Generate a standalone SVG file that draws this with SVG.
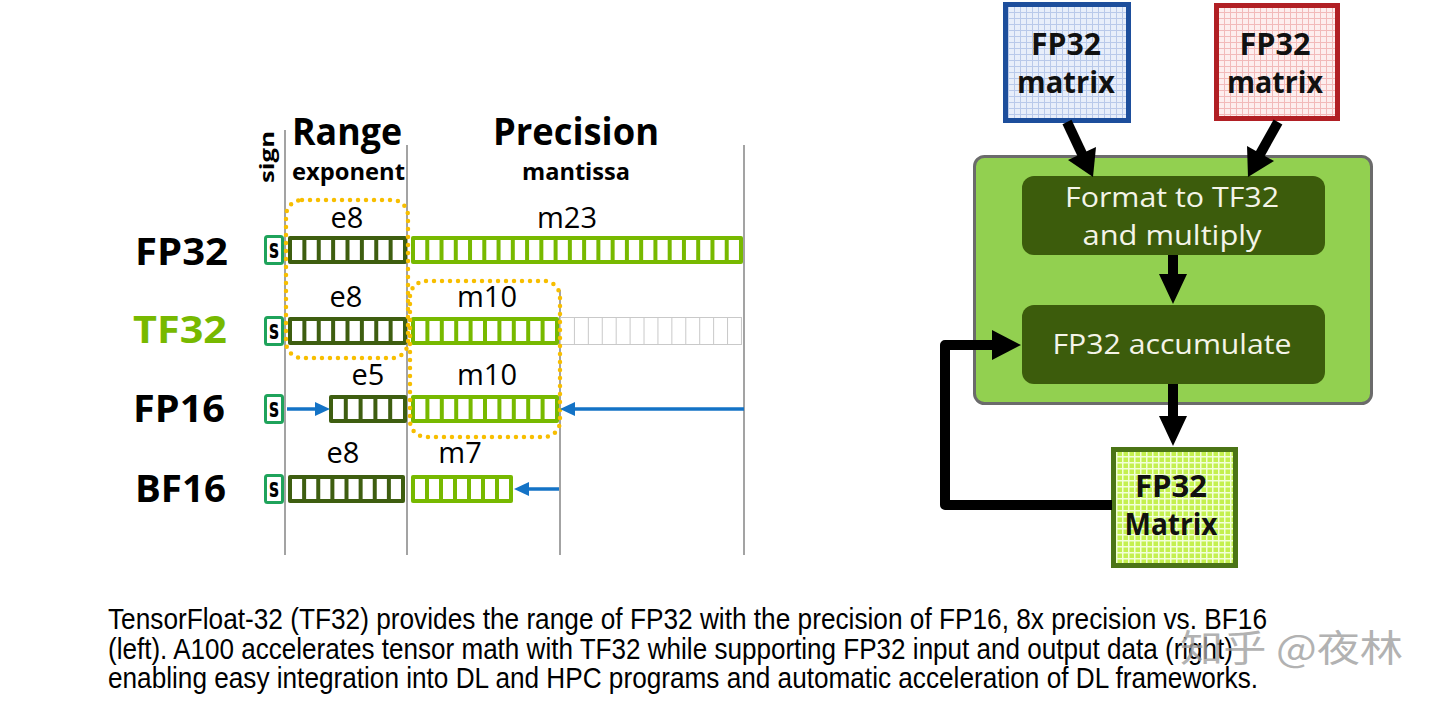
<svg xmlns="http://www.w3.org/2000/svg" width="1440" height="710" viewBox="0 0 1440 710">
<style>
.vl{stroke:#a3a3a3;stroke-width:2;fill:none}
.hd{font-family:"Open Sans","DejaVu Sans",sans-serif;font-weight:bold;fill:#000}
.lb{font-family:"Open Sans","DejaVu Sans",sans-serif;font-size:29px;fill:#000;text-anchor:middle}
.row{font-family:"Open Sans","DejaVu Sans",sans-serif;font-weight:bold;font-size:37px;fill:#000}
.sg{fill:#fff;stroke:#1fa35b;stroke-width:3}
.st{font-family:"DejaVu Sans",sans-serif;font-weight:bold;font-size:27px;fill:#000}
.ex{fill:#3e5e10}
.mt{fill:#77b900}
.cw{stroke:#fff;stroke-width:20}
.dot{fill:none;stroke:#f7be00;stroke-width:4.5;stroke-dasharray:0 8;stroke-linecap:round}
.blue{stroke:#1473c6;stroke-width:3.5;fill:none}
.bh{fill:#1473c6}
.bk{stroke:#000;stroke-width:10;fill:none;stroke-linejoin:round}
.kh{fill:#000}
.dk{fill:#3c5c0c}
.wt{font-family:"Open Sans","DejaVu Sans",sans-serif;font-size:28px;fill:#f4f4e8;text-anchor:middle}
.mx{font-family:"Open Sans","DejaVu Sans",sans-serif;font-weight:bold;font-size:31px;fill:#111;text-anchor:middle}
.cap{font-family:"Liberation Sans",Arial,sans-serif;font-size:29px;fill:#000}
</style>
<defs>
<pattern id="gb" width="6" height="6" patternUnits="userSpaceOnUse">
<rect width="6" height="6" fill="#e8eefa"/>
<path d="M0 0.5H6M0.5 0V6" stroke="#b9c9ea" stroke-width="1"/>
</pattern>
<pattern id="gr" width="6" height="6" patternUnits="userSpaceOnUse">
<rect width="6" height="6" fill="#fdeeee"/>
<path d="M0 0.5H6M0.5 0V6" stroke="#f2baba" stroke-width="1"/>
</pattern>
<pattern id="gg" width="6" height="6" patternUnits="userSpaceOnUse">
<rect width="6" height="6" fill="#c4f04e"/>
<path d="M0 0.75H6M0.75 0V6" stroke="#f2ffd8" stroke-width="1.5"/>
</pattern>
</defs>
<rect width="1440" height="710" fill="#fff"/>

<g id="axes">
<line class="vl" x1="285" y1="130" x2="285" y2="555"/>
<line class="vl" x1="407" y1="145" x2="407" y2="555"/>
<line class="vl" x1="560" y1="290" x2="560" y2="555"/>
<line class="vl" x1="744" y1="145" x2="744" y2="555"/>
</g>

<g id="header">
<text class="hd" x="292" y="145" font-size="37" textLength="110" lengthAdjust="spacingAndGlyphs">Range</text>
<text class="hd" x="493" y="145" font-size="37" textLength="166" lengthAdjust="spacingAndGlyphs">Precision</text>
<text class="hd" x="292" y="180" font-size="23" textLength="113" lengthAdjust="spacingAndGlyphs">exponent</text>
<text class="hd" x="522" y="180" font-size="23" textLength="108" lengthAdjust="spacingAndGlyphs">mantissa</text>
<text class="hd" font-size="20" text-anchor="middle" transform="translate(274,157) rotate(-90)" textLength="52" lengthAdjust="spacingAndGlyphs">sign</text>
</g>

<g id="row-fp32">
<text class="row" x="135" y="265" textLength="93" lengthAdjust="spacingAndGlyphs">FP32</text>
<rect class="sg" x="265.5" y="236.5" width="17" height="27" rx="2"/>
<text class="st" x="269" y="258" textLength="10" lengthAdjust="spacingAndGlyphs">s</text>
<rect class="ex" x="288" y="236" width="119" height="28" rx="2"/>
<line class="cw" x1="292" y1="250" x2="403" y2="250" stroke-dasharray="10.375 4"/>
<rect class="mt" x="411" y="236" width="332" height="28" rx="2"/>
<line class="cw" x1="415" y1="250" x2="739" y2="250" stroke-dasharray="10.26 4"/>
<text class="lb" x="347" y="228">e8</text>
<text class="lb" x="567" y="228">m23</text>
</g>

<g id="row-tf32">
<text class="row" x="133" y="343" style="fill:#77b900" textLength="94" lengthAdjust="spacingAndGlyphs">TF32</text>
<rect class="sg" x="265.5" y="317.5" width="17" height="27" rx="2"/>
<text class="st" x="269" y="339" textLength="10" lengthAdjust="spacingAndGlyphs">s</text>
<rect class="ex" x="288" y="317" width="119" height="28" rx="2"/>
<line class="cw" x1="292" y1="331" x2="403" y2="331" stroke-dasharray="10.375 4"/>
<rect class="mt" x="411" y="317" width="148" height="28" rx="2"/>
<line class="cw" x1="415" y1="331" x2="555" y2="331" stroke-dasharray="10.4 4"/>
<rect x="560.5" y="317.5" width="181" height="27" fill="none" stroke="#c9c9c9" stroke-width="1"/>
<line x1="560" y1="331" x2="741" y2="331" stroke="#c9c9c9" stroke-width="27" stroke-dasharray="1 12.92"/>
<text class="lb" x="346" y="307">e8</text>
<text class="lb" x="487" y="307">m10</text>
</g>

<g id="row-fp16">
<text class="row" x="133" y="422" textLength="92" lengthAdjust="spacingAndGlyphs">FP16</text>
<rect class="sg" x="265.5" y="395.5" width="17" height="27" rx="2"/>
<text class="st" x="269" y="417" textLength="10" lengthAdjust="spacingAndGlyphs">s</text>
<rect class="ex" x="329" y="395" width="78" height="28" rx="2"/>
<line class="cw" x1="333" y1="409" x2="403" y2="409" stroke-dasharray="10.8 4"/>
<rect class="mt" x="411" y="395" width="148" height="28" rx="2"/>
<line class="cw" x1="415" y1="409" x2="555" y2="409" stroke-dasharray="10.4 4"/>
<text class="lb" x="368" y="385">e5</text>
<text class="lb" x="487" y="385">m10</text>
</g>

<g id="row-bf16">
<text class="row" x="135" y="502" textLength="91" lengthAdjust="spacingAndGlyphs">BF16</text>
<rect class="sg" x="265.5" y="475.5" width="17" height="27" rx="2"/>
<text class="st" x="269" y="497" textLength="10" lengthAdjust="spacingAndGlyphs">s</text>
<rect class="ex" x="288" y="475" width="117" height="28" rx="2"/>
<line class="cw" x1="292" y1="489" x2="401" y2="489" stroke-dasharray="10.125 4"/>
<rect class="mt" x="411" y="475" width="102" height="28" rx="2"/>
<line class="cw" x1="415" y1="489" x2="509" y2="489" stroke-dasharray="10 4"/>
<text class="lb" x="343" y="463">e8</text>
<text class="lb" x="460" y="463">m7</text>
</g>

<g id="highlights">
<rect class="dot" x="286" y="200" width="122" height="158" rx="16"/>
<rect class="dot" x="410" y="281" width="150" height="156" rx="16"/>
</g>

<g id="node-fp32-a">
<rect x="1005.5" y="4.5" width="123" height="116" fill="url(#gb)" stroke="#1d4e9c" stroke-width="5"/>
<text class="mx" x="1066" y="55" textLength="70" lengthAdjust="spacingAndGlyphs">FP32</text>
<text class="mx" x="1066" y="93" textLength="98" lengthAdjust="spacingAndGlyphs">matrix</text>
</g>
<g id="node-fp32-b">
<rect x="1216.5" y="5.5" width="121" height="113" fill="url(#gr)" stroke="#b11f24" stroke-width="5"/>
<text class="mx" x="1275" y="55" textLength="71" lengthAdjust="spacingAndGlyphs">FP32</text>
<text class="mx" x="1275" y="93" textLength="96" lengthAdjust="spacingAndGlyphs">matrix</text>
</g>

<g id="node-core">
<rect x="974.5" y="156.5" width="397" height="247" rx="10" fill="#92d050" stroke="#6b6b6b" stroke-width="3"/>
</g>
<g id="node-format">
<rect class="dk" x="1022" y="176" width="303" height="79" rx="12"/>
<text class="wt" x="1172" y="207" textLength="214" lengthAdjust="spacingAndGlyphs">Format to TF32</text>
<text class="wt" x="1172" y="245" textLength="179" lengthAdjust="spacingAndGlyphs">and multiply</text>
</g>
<g id="node-accumulate">
<rect class="dk" x="1022" y="305" width="303" height="79" rx="12"/>
<text class="wt" x="1172" y="354" textLength="239" lengthAdjust="spacingAndGlyphs">FP32 accumulate</text>
</g>
<g id="node-fp32-out">
<rect x="1113.5" y="449.5" width="122" height="116" fill="url(#gg)" stroke="#4b7416" stroke-width="5"/>
<text class="mx" x="1171" y="497" textLength="72" lengthAdjust="spacingAndGlyphs">FP32</text>
<text class="mx" x="1171" y="535" textLength="93" lengthAdjust="spacingAndGlyphs">Matrix</text>
</g>

<g id="connectors">
<line class="blue" x1="287" y1="409" x2="318" y2="409"/>
<polygon class="bh" points="315,402 315,416 330,409"/>
<line class="blue" x1="744" y1="409" x2="572" y2="409"/>
<polygon class="bh" points="575,402 575,416 560,409"/>
<line class="blue" x1="559" y1="489" x2="526" y2="489"/>
<polygon class="bh" points="529,482 529,496 514,489"/>

<line class="bk" x1="1067" y1="122" x2="1083" y2="156"/>
<polygon class="kh" points="1096,147 1068,160 1093,177"/>
<line class="bk" x1="1278" y1="122" x2="1259" y2="156"/>
<polygon class="kh" points="1274,161 1247,146 1248,177"/>
<line class="bk" x1="1173" y1="255" x2="1173" y2="280"/>
<polygon class="kh" points="1159,274 1187,274 1173,304"/>
<line class="bk" x1="1173" y1="384" x2="1173" y2="420"/>
<polygon class="kh" points="1159,416 1187,416 1173,446"/>
<polyline class="bk" points="1112,505 945,505 945,345 996,345"/>
<polygon class="kh" points="992,330 992,360 1021,345"/>
</g>

<g id="caption">
<text class="cap" x="108" y="629" textLength="1159" lengthAdjust="spacingAndGlyphs">TensorFloat-32 (TF32) provides the range of FP32 with the precision of FP16, 8x precision vs. BF16</text>
<text class="cap" x="108" y="659" textLength="1125" lengthAdjust="spacingAndGlyphs">(left). A100 accelerates tensor math with TF32 while supporting FP32 input and output data (right)</text>
<text class="cap" x="108" y="688" textLength="1150" lengthAdjust="spacingAndGlyphs">enabling easy integration into DL and HPC programs and automatic acceleration of DL frameworks.</text>
</g>
<g id="watermark">
<text x="1180" y="662" font-family="'Noto Sans CJK SC',sans-serif" font-size="37" fill="#a0a0a0" opacity="0.8" textLength="223" lengthAdjust="spacingAndGlyphs">知乎 @夜林</text>
</g>
</svg>
